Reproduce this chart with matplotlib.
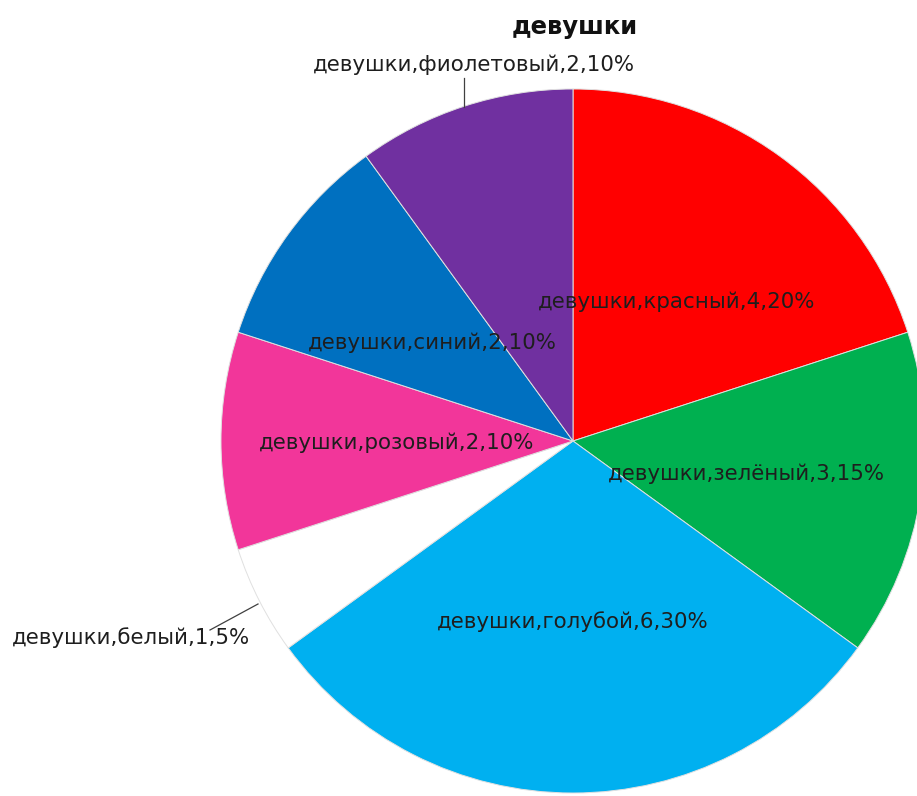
import matplotlib
matplotlib.use("Agg")
import matplotlib.pyplot as plt

title = "девушки"
categories = ["красный", "зелёный", "голубой", "белый", "розовый", "синий", "фиолетовый"]
values = [4, 3, 6, 1, 2, 2, 2]
percents = ["20%", "15%", "30%", "5%", "10%", "10%", "10%"]
colors = ["#FF0000", "#00B050", "#00B0F0", "#FFFFFF", "#F2369A", "#0070C0", "#7030A0"]

W, H = 917, 796
fig = plt.figure(figsize=(W / 100, H / 100), dpi=100)
ax = fig.add_axes([0, 0, 1, 1])

cx, cy, r = 573, H - 441, 352
wedges, _ = ax.pie(values, colors=colors, startangle=90, counterclock=False,
                   center=(cx, cy), radius=r,
                   wedgeprops=dict(edgecolor="#e0e0e0", linewidth=0.7))
ax.set_xlim(0, W)
ax.set_ylim(0, H)
ax.set_aspect("auto")
ax.axis("off")

font = ["DejaVu Sans"]
tc = "#1e1e1e"
fs = 15.4
labels = [f"{title},{c},{v},{p}" for c, v, p in zip(categories, values, percents)]
# label positions in pixel coordinates (top-left origin)
pos = {
    0: (677, 302),
    1: (746, 474),
    2: (573, 622),
    3: (131, 638),
    4: (397, 443),
    5: (432, 343),
    6: (474, 65),
}
for i, lab in enumerate(labels):
    x, y = pos[i]
    ax.text(x, H - y, lab, ha="center", va="center", fontsize=fs, color=tc, family=font)

# leader lines
ax.plot([464, 464], [H - 78, H - 107], color="#404040", lw=0.9)
ax.plot([210, 258], [H - 630, H - 604], color="#404040", lw=0.9)

ax.text(575, H - 27, title, ha="center", va="center", fontsize=17.5,
        fontweight="bold", color="#111111", family=font)

fig.savefig("out.png", dpi=100, facecolor="white")
